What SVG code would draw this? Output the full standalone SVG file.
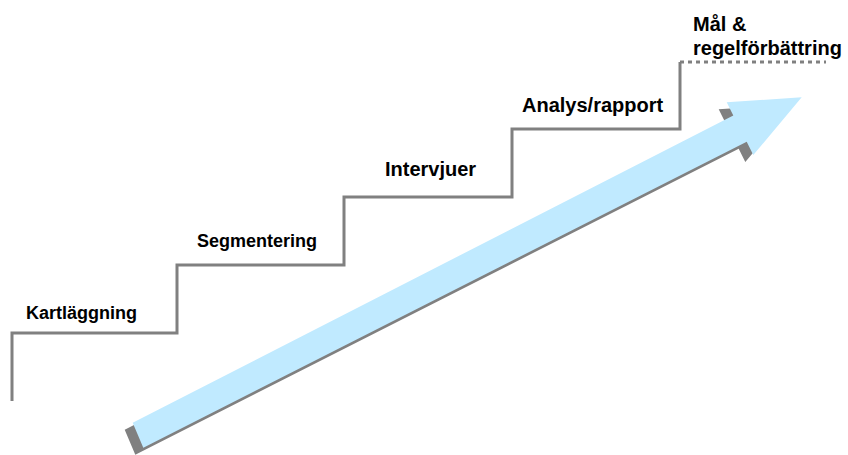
<svg xmlns="http://www.w3.org/2000/svg" width="848" height="455" viewBox="0 0 848 455">
<style>
.lbl{font-family:"Liberation Sans",Arial,sans-serif;font-weight:bold;font-size:20px;fill:#000}
.stair{fill:none;stroke:#808080;stroke-width:3}
.dots{fill:none;stroke:#808080;stroke-width:3;stroke-dasharray:4 4}
</style>
<rect width="848" height="455" fill="#fff"/>
<g id="connectors">
<path class="stair" d="M12,401 V333 H177 V265 H344 V197 H512 V129 H680 V62"/>
<path class="dots" d="M680,62 H826"/>
</g>
<g id="arrow">
<polygon fill="#808080" transform="translate(-8,7)" points="132.7,422.7 733.3,115.5 726.7,102.3 801.7,97.3 753.3,155 746.7,141.7 143.3,447.7"/>
<polygon fill="#C0EAFF" points="132.7,422.7 733.3,115.5 726.7,102.3 801.7,97.3 753.3,155 746.7,141.7 143.3,447.7"/>
</g>
<g id="kartlaggning"><text class="lbl" x="26" y="319" style="font-size:18px">Kartläggning</text></g>
<g id="segmentering"><text class="lbl" x="197" y="247" style="font-size:18px">Segmentering</text></g>
<g id="intervjuer"><text class="lbl" x="385" y="176">Intervjuer</text></g>
<g id="analys"><text class="lbl" x="522" y="112">Analys/rapport</text></g>
<g id="mal"><text class="lbl" x="693" y="31">Mål &amp;</text><text class="lbl" x="693" y="55">regelförbättring</text></g>
</svg>
